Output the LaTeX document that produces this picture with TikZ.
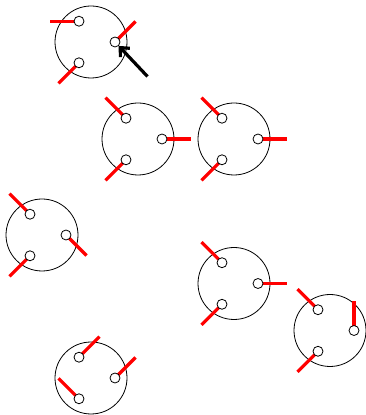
\documentclass[tikz,border=0pt]{standalone}
\usetikzlibrary{arrows.meta,calc}
\pgfdeclarelayer{back}
\pgfdeclarelayer{mid}
\pgfsetlayers{back,mid,main}

% \drawrobot{name}{centre}{leg a angle}{leg b angle}{leg c angle}
% Three joints sit on the body at 120, 0 and 240 degrees; each has a red leg.
\newcommand\drawrobot[5]{%
  \begin{pgfonlayer}{back}
    \node[body] (#1) at (#2) {};
  \end{pgfonlayer}
  \node[joint] (#1-a) at ($(#1)+(120:24)$) {};
  \node[joint] (#1-b) at ($(#1)+(0:24)$) {};
  \node[joint] (#1-c) at ($(#1)+(240:24)$) {};
  \coordinate (#1-a-end) at ($(#1-a)+(#3:29)$);
  \coordinate (#1-b-end) at ($(#1-b)+(#4:29)$);
  \coordinate (#1-c-end) at ($(#1-c)+(#5:29)$);
  \begin{pgfonlayer}{mid}
    \draw[leg] (#1-a.center) -- (#1-a-end);
    \draw[leg] (#1-b.center) -- (#1-b-end);
    \draw[leg] (#1-c.center) -- (#1-c-end);
  \end{pgfonlayer}
}

\begin{document}
\begin{tikzpicture}[x=1pt,y=1pt,
  body/.style={circle,draw=black,line width=0.8pt,minimum size=72pt,inner sep=0pt},
  joint/.style={circle,draw=black,fill=white,line width=0.8pt,minimum size=10pt,inner sep=0pt},
  leg/.style={red,line width=3.2pt},
  pointer/.style={black,line width=3.2pt,-{Straight Barb[length=7pt,width=13pt]}}]
\useasboundingbox (0,0) rectangle (366,415);

\drawrobot{r1}{91,373}{180}{45}{225}
\drawrobot{r2}{138,276}{135}{0}{225}
\drawrobot{r3}{234,276}{135}{0}{225}
\drawrobot{r4}{42,180}{135}{315}{225}
\drawrobot{r5}{234,131.5}{135}{0}{225}
\drawrobot{r6}{330,84.5}{135}{90}{225}
\drawrobot{r7}{91,37}{45}{45}{135}

\coordinate (tail) at (147.5,338.5);
\draw[pointer] (tail) -- (r1-b);
\end{tikzpicture}
\end{document}
